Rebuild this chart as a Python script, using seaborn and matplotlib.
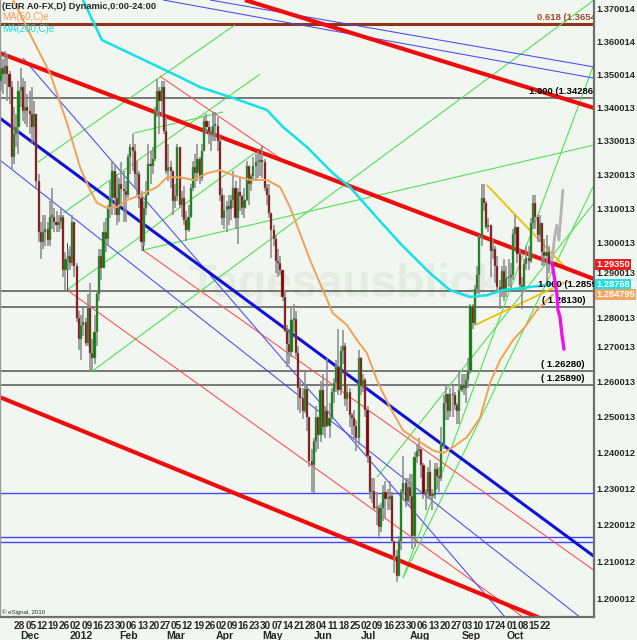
import numpy as np
import pandas as pd
import matplotlib
matplotlib.use('Agg')
import matplotlib.pyplot as plt
import matplotlib.transforms as mtransforms
from matplotlib.ticker import NullLocator
import seaborn as sns

# EUR A0-FX daily bars, 2011-11-17 .. 2012-10-26 (bar number 3 = first date)
start_date = '2011-11-17'
end_date = '2012-10-26'
first_bar = 3
first_open = 1.3440

closes = [
    1.3480, 1.3520,
    1.3500, 1.3525, 1.3500, 1.3460, 1.3250,
    1.3320, 1.3340, 1.3450, 1.3460, 1.3390,
    1.3400, 1.3390, 1.3380, 1.3340, 1.3380,
    1.3180, 1.3030, 1.3000, 1.3030, 1.3040,
    1.3005, 1.3075, 1.3075, 1.3060, 1.3050,
    1.3060, 1.3075, 1.2920, 1.2950, 1.2960,
    1.2940, 1.3060, 1.2930, 1.2780, 1.2720,
    1.2760, 1.2770, 1.2710, 1.2810, 1.2680,
    1.2665, 1.2740, 1.2850, 1.2960, 1.2925,
    1.3030, 1.3010, 1.3100, 1.3130, 1.3210,
    1.3130, 1.3080, 1.3170, 1.3155, 1.3150,
    1.3140, 1.3250, 1.3280, 1.3270, 1.3200,
    1.3200, 1.3130, 1.3000, 1.3100, 1.3140,
    1.3230, 1.3225, 1.3245, 1.3390, 1.3450,
    1.3420, 1.3460, 1.3330, 1.3210, 1.3220,
    1.3210, 1.3120, 1.3135, 1.3280, 1.3110,
    1.3130, 1.3065, 1.3035, 1.3075, 1.3160,
    1.3220, 1.3205, 1.3245, 1.3190, 1.3270,
    1.3360, 1.3340, 1.3325, 1.3320, 1.3345,
    1.3345, 1.3300, 1.3140, 1.3070, 1.3095,
    1.3105, 1.3098, 1.3123, 1.3158, 1.3070,
    1.3147, 1.3136, 1.3100, 1.3125, 1.3225,
    1.3170, 1.3195, 1.3225, 1.3235, 1.3235,
    1.3243, 1.3235, 1.3160, 1.3140, 1.3085,
    1.3037, 1.3008, 1.2946, 1.2940, 1.2920,
    1.2840, 1.2742, 1.2707, 1.2684, 1.2775,
    1.2778, 1.2680, 1.2580, 1.2554, 1.2517,
    1.2578, 1.2499, 1.2376, 1.2365, 1.2433,
    1.2500, 1.2450, 1.2575, 1.2470, 1.2515,
    1.2475, 1.2497, 1.2570, 1.2595, 1.2640,
    1.2575, 1.2685, 1.2700, 1.2550, 1.2570,
    1.2505, 1.2497, 1.2475, 1.2440, 1.2665,
    1.2586, 1.2605, 1.2518, 1.2390, 1.2290,
    1.2292, 1.2245, 1.2245, 1.2195, 1.2245,
    1.2290, 1.2270, 1.2270, 1.2280, 1.2155,
    1.2115, 1.2060, 1.2155, 1.2290, 1.2315,
    1.2265, 1.2305, 1.2280, 1.2170, 1.2387,
    1.2405, 1.2410, 1.2365, 1.2285, 1.2290,
    1.2345, 1.2280, 1.2283, 1.2355, 1.2335,
    1.2330, 1.2425, 1.2540, 1.2565, 1.2515,
    1.2565, 1.2560, 1.2533, 1.2515, 1.2576,
    1.2590, 1.2580, 1.2605, 1.2630, 1.2815,
    1.2765, 1.2865, 1.2905, 1.3015, 1.3130,
    1.3115, 1.3045, 1.3050, 1.2975, 1.2980,
    1.2930, 1.2870, 1.2860, 1.2915, 1.2860,
    1.2895, 1.2900, 1.2905, 1.3025, 1.3045,
    1.2965, 1.2875, 1.2870, 1.2935, 1.2955,
    1.2945, 1.3055, 1.3115, 1.3075, 1.3020,
    1.3055, 1.2970, 1.2960, 1.2970, 1.2935,
]
highs = [
    1.3540, 1.3560,
    1.3545, 1.3570, 1.3560, 1.3510, 1.3480,
    1.3400, 1.3380, 1.3480, 1.3520, 1.3490,
    1.3480, 1.3440, 1.3450, 1.3460, 1.3420,
    1.3380, 1.3200, 1.3060, 1.3080, 1.3080,
    1.3060, 1.3120, 1.3160, 1.3100, 1.3090,
    1.3080, 1.3100, 1.3080, 1.2970, 1.2980,
    1.2990, 1.3080, 1.3060, 1.2940, 1.2800,
    1.2790, 1.2810, 1.2780, 1.2850, 1.2880,
    1.2720, 1.2790, 1.2860, 1.2980, 1.2980,
    1.3060, 1.3070, 1.3110, 1.3180, 1.3235,
    1.3230, 1.3200, 1.3190, 1.3235, 1.3210,
    1.3180, 1.3260, 1.3290, 1.3320, 1.3290,
    1.3240, 1.3210, 1.3150, 1.3120, 1.3180,
    1.3290, 1.3270, 1.3280, 1.3400, 1.3486,
    1.3460, 1.3480, 1.3480, 1.3370, 1.3290,
    1.3240, 1.3200, 1.3170, 1.3290, 1.3280,
    1.3150, 1.3165, 1.3090, 1.3110, 1.3170,
    1.3240, 1.3260, 1.3290, 1.3250, 1.3290,
    1.3370, 1.3380, 1.3360, 1.3340, 1.3385,
    1.3385, 1.3370, 1.3310, 1.3160, 1.3140,
    1.3120, 1.3140, 1.3140, 1.3210, 1.3180,
    1.3160, 1.3190, 1.3140, 1.3160, 1.3240,
    1.3220, 1.3200, 1.3250, 1.3260, 1.3270,
    1.3260, 1.3283, 1.3245, 1.3170, 1.3170,
    1.3060, 1.3050, 1.3020, 1.2980, 1.2960,
    1.2920, 1.2860, 1.2760, 1.2750, 1.2816,
    1.2820, 1.2800, 1.2700, 1.2600, 1.2580,
    1.2625, 1.2590, 1.2500, 1.2410, 1.2440,
    1.2530, 1.2500, 1.2600, 1.2620, 1.2530,
    1.2670, 1.2540, 1.2580, 1.2610, 1.2660,
    1.2748, 1.2700, 1.2745, 1.2710, 1.2590,
    1.2580, 1.2510, 1.2520, 1.2490, 1.2690,
    1.2670, 1.2620, 1.2610, 1.2530, 1.2390,
    1.2330, 1.2330, 1.2290, 1.2255, 1.2260,
    1.2310, 1.2320, 1.2300, 1.2320, 1.2290,
    1.2150, 1.2130, 1.2170, 1.2300, 1.2390,
    1.2330, 1.2330, 1.2340, 1.2340, 1.2400,
    1.2420, 1.2440, 1.2410, 1.2370, 1.2300,
    1.2360, 1.2380, 1.2300, 1.2370, 1.2370,
    1.2360, 1.2470, 1.2560, 1.2590, 1.2565,
    1.2580, 1.2590, 1.2570, 1.2540, 1.2630,
    1.2620, 1.2620, 1.2620, 1.2665, 1.2820,
    1.2820, 1.2875, 1.2930, 1.3020, 1.3170,
    1.3172, 1.3120, 1.3070, 1.3050, 1.3010,
    1.2990, 1.2960, 1.2890, 1.2930, 1.2950,
    1.2930, 1.2950, 1.2940, 1.3040, 1.3080,
    1.3040, 1.2980, 1.2900, 1.2950, 1.2990,
    1.2990, 1.3070, 1.3140, 1.3140, 1.3080,
    1.3080, 1.3050, 1.3010, 1.3020, 1.2990,
]
lows = [
    1.3430, 1.3450,
    1.3440, 1.3470, 1.3420, 1.3410, 1.3213,
    1.3230, 1.3280, 1.3260, 1.3400, 1.3360,
    1.3350, 1.3340, 1.3320, 1.3290, 1.3300,
    1.3160, 1.3000, 1.2950, 1.2980, 1.2990,
    1.2990, 1.2990, 1.3040, 1.3030, 1.3030,
    1.3030, 1.3040, 1.2900, 1.2860, 1.2920,
    1.2920, 1.2930, 1.2900, 1.2770, 1.2690,
    1.2660, 1.2730, 1.2700, 1.2700, 1.2625,
    1.2625, 1.2650, 1.2700, 1.2830, 1.2890,
    1.2930, 1.2970, 1.2990, 1.3070, 1.3080,
    1.3080, 1.3050, 1.3060, 1.3110, 1.3060,
    1.3060, 1.3130, 1.3200, 1.3210, 1.3160,
    1.3140, 1.3100, 1.2975, 1.2990, 1.3080,
    1.3170, 1.3170, 1.3200, 1.3240, 1.3370,
    1.3320, 1.3370, 1.3320, 1.3200, 1.3180,
    1.3160, 1.3080, 1.3100, 1.3120, 1.3100,
    1.3075, 1.3050, 1.3003, 1.3030, 1.3070,
    1.3150, 1.3160, 1.3180, 1.3170, 1.3180,
    1.3270, 1.3320, 1.3290, 1.3270, 1.3300,
    1.3300, 1.3270, 1.3120, 1.3050, 1.3040,
    1.3030, 1.3050, 1.3065, 1.3100, 1.3040,
    1.2995, 1.3090, 1.3080, 1.3070, 1.3120,
    1.3110, 1.3150, 1.3180, 1.3180, 1.3190,
    1.3195, 1.3190, 1.3150, 1.3110, 1.3070,
    1.2955, 1.2990, 1.2910, 1.2900, 1.2905,
    1.2830, 1.2740, 1.2640, 1.2650, 1.2670,
    1.2740, 1.2670, 1.2520, 1.2510, 1.2495,
    1.2510, 1.2460, 1.2360, 1.2290, 1.2288,
    1.2400, 1.2410, 1.2430, 1.2450, 1.2440,
    1.2470, 1.2440, 1.2490, 1.2540, 1.2570,
    1.2560, 1.2560, 1.2650, 1.2530, 1.2515,
    1.2470, 1.2450, 1.2440, 1.2405, 1.2420,
    1.2560, 1.2570, 1.2500, 1.2370, 1.2270,
    1.2260, 1.2240, 1.2200, 1.2160, 1.2180,
    1.2210, 1.2220, 1.2240, 1.2240, 1.2150,
    1.2070, 1.2043, 1.2060, 1.2130, 1.2270,
    1.2250, 1.2260, 1.2250, 1.2135, 1.2140,
    1.2370, 1.2390, 1.2330, 1.2270, 1.2240,
    1.2270, 1.2270, 1.2240, 1.2270, 1.2300,
    1.2290, 1.2320, 1.2410, 1.2490, 1.2490,
    1.2500, 1.2500, 1.2520, 1.2480, 1.2480,
    1.2570, 1.2560, 1.2540, 1.2580, 1.2620,
    1.2750, 1.2760, 1.2850, 1.2850, 1.2990,
    1.3090, 1.3040, 1.3030, 1.2900, 1.2950,
    1.2880, 1.2860, 1.2805, 1.2840, 1.2830,
    1.2840, 1.2870, 1.2860, 1.2890, 1.2990,
    1.2940, 1.2860, 1.2805, 1.2860, 1.2920,
    1.2920, 1.2940, 1.3040, 1.3040, 1.3000,
    1.3000, 1.2930, 1.2930, 1.2880, 1.2910,
]

# moving averages (bar number, price)
ma50_bars = [9.6, 18.5, 26.1, 33.7, 39.5, 44.0, 47.1, 51.6, 56.0, 60.5, 66.3, 73.9, 78.4, 84.2,
             90.0, 96.2, 102.0, 107.9, 115.5, 123.0, 128.9, 133.3, 137.8, 142.3, 146.7, 152.5,
             158.8, 163.3, 167.7, 172.2, 178.0, 183.8, 191.4, 197.2, 201.7, 206.2, 212.4, 218.2,
             222.7, 227.2, 233.0, 238.3, 243.7, 250.8]
ma50_vals = [1.3727, 1.3604, 1.3503, 1.3352, 1.3221, 1.3153, 1.3115, 1.3100, 1.3103, 1.3123,
             1.3138, 1.3162, 1.3191, 1.3191, 1.3183, 1.3203, 1.3212, 1.3197, 1.3183, 1.3183,
             1.3162, 1.3103, 1.3026, 1.2948, 1.2881, 1.2794, 1.2760, 1.2717, 1.2680, 1.2603,
             1.2527, 1.2462, 1.2429, 1.2406, 1.2398, 1.2415, 1.2443, 1.2496, 1.2595, 1.2660,
             1.2717, 1.2754, 1.2803, 1.2848]
ma200_bars = [40.8, 49.3, 66.3, 84.2, 93.1, 107.9, 123.0, 130.2, 140.9, 152.5, 160.1, 170.4,
              182.5, 195.9, 204.8, 213.8, 221.4, 228.5, 236.1, 250.8]
ma200_vals = [1.3727, 1.3604, 1.3549, 1.3491, 1.3461, 1.3428, 1.3392, 1.3341, 1.3281, 1.3203,
              1.3162, 1.3085, 1.2997, 1.2910, 1.2861, 1.2841, 1.2846, 1.2861, 1.2866, 1.2878]

# projections after the last bar
proj_pink_bars = [250.4, 251.7, 252.6, 253.1, 254.0, 254.9, 255.8]
proj_pink_vals = [1.2939, 1.2890, 1.2852, 1.2803, 1.2783, 1.2731, 1.2691]
proj_gray_bars = [250.4, 251.7, 252.6, 253.5, 254.4, 255.3]
proj_gray_vals = [1.2945, 1.3021, 1.3050, 1.3006, 1.3079, 1.3153]

# trendlines: (bar0, price0, bar1, price1)
red_thick = [(3.74, 1.3564, 269.2, 1.2893), (113.2, 1.3727, 269.2, 1.3398),
             (3.74, 1.2555, 269.2, 1.1888)]
blue_thick = [(3.74, 1.3367, 269.2, 1.2114)]
blue_thin = [(97.6, 1.3727, 269.2, 1.3522), (76.6, 1.3727, 269.2, 1.3488),
             (3.74, 1.3242, 269.2, 1.1920), (14.0, 1.3549, 229.4, 1.1950)]
red_thin = [(75.2, 1.3494, 130.2, 1.3242), (33.7, 1.2861, 237.4, 1.1950),
            (67.6, 1.2977, 269.2, 1.2076)]
green_thin = [(44.4, 1.2626, 269.2, 1.3727), (33.7, 1.2861, 121.3, 1.3281),
              (67.6, 1.2977, 269.2, 1.3287), (63.2, 1.3322, 103.4, 1.3386),
              (20.7, 1.3236, 108.7, 1.3650), (31.9, 1.3085, 119.9, 1.3500),
              (183.8, 1.2055, 269.2, 1.3531), (183.8, 1.2055, 269.2, 1.3168),
              (172.2, 1.2331, 269.2, 1.3115)]
gold_thin = [(221.3, 1.3168, 257.5, 1.2919), (216.0, 1.2760, 257.5, 1.2887)]
handles = [(33.7, 1.2861, 1.2997), (67.6, 1.2977, 1.3035)]

# horizontal levels
level_vals = [1.3654, 1.34286, 1.2859, 1.2813, 1.2628, 1.2589]
level_text = ['0.618 (1.3654', '1.000 (1.34286', '1.000 (1.2859', '( 1.28130)', '( 1.26280)', '( 1.25890)']
level_text_bar = [243.7, 240.1, 244.1, 245.9, 245.5, 245.5]
blue_levels = [1.2288, 1.2166, 1.2153]

ytick_vals = [1.37, 1.36, 1.35, 1.34, 1.33, 1.32, 1.31, 1.30, 1.29, 1.28, 1.27, 1.26, 1.25,
              1.24, 1.23, 1.22, 1.21, 1.20]
ytick_text = ['1.370014', '1.360014', '1.350014', '1.340013', '1.330013', '1.320013', '1.310013',
              '1.300013', '1.290013', '1.280013', '1.270013', '1.260013', '1.250013', '1.240012',
              '1.230012', '1.220012', '1.210012', '1.200012']
# tick labels that eSignal nudges aside to make room for the price boxes (points)
ytick_nudge = {'1.290013': 2.0, '1.280013': -5.0}
month_text = ['Dec', '2012', 'Feb', 'Mar', 'Apr', 'May', 'Jun', 'Jul', 'Aug', 'Sep', 'Oct']
last_boxes = [(1.2935, '1.29350', '#ee1c1c'), (1.28768, '1.28768', '#1ee0e0'),
              (1.284795, '1.284795', '#f2a862')]

# ---------------------------------------------------------------------------
sns.set_style('white')
plt.rcParams['font.family'] = ['Liberation Sans', 'DejaVu Sans']
bg = '#f1f7f0'

dates = pd.bdate_range(start_date, end_date)
df = pd.DataFrame({'date': dates, 'bar': np.arange(len(dates)) + first_bar,
                   'high': highs, 'low': lows, 'close': closes})
df['open'] = [first_open] + closes[:-1]
up = df['close'] >= df['open']

fig = plt.figure(figsize=(6.37, 6.40), dpi=100)
fig.patch.set_facecolor(bg)
ax = fig.add_axes([0, 23 / 640, 594 / 637, 617 / 640])
ax.set_facecolor(bg)
ax.set_yscale('log')
ax.set_xlim(3.74, 269.2)
ax.set_ylim(1.1950, 1.3727)

# watermark
ax.text(157.9, 1.2875, 'Tagesausblick', fontsize=33, fontweight='bold', color='#e4ece3',
        ha='center', va='center', zorder=0)

# horizontal levels
for i, (v, t, b) in enumerate(zip(level_vals, level_text, level_text_bar)):
    col = '#8e3518' if i == 0 else '#555555'
    ax.axhline(v, color=col, lw=2.2 if i == 0 else 1.1, zorder=1)
    ax.annotate(t, (b, v), xytext=(0, 1.5), textcoords='offset points', va='bottom', ha='left',
                fontsize=6.8, fontweight='bold', color='#9a4a2a' if i == 0 else 'black',
                annotation_clip=False, clip_on=True, zorder=6)
for v in blue_levels:
    ax.axhline(v, color='#4646f0', lw=1.0, zorder=1)


def draw(lines, color, lw):
    for b0, p0, b1, p1 in lines:
        ax.plot([b0, b1], [p0, p1], color=color, lw=lw, zorder=2, solid_capstyle='butt')


draw(green_thin, '#52e052', 0.8)
draw(red_thin, '#ff4a4a', 0.75)
draw(blue_thin, '#4848f8', 0.75)
draw(gold_thin, '#f0c000', 1.3)
for b, p0, p1 in handles:
    ax.plot([b, b], [p0, p1], color='#404040', lw=0.7, zorder=2)

# candles
ax.vlines(df['bar'], df['low'], df['high'], color='#888888', lw=1.1, zorder=3)
body_lo = np.minimum(df['open'], df['close'])
body_h = np.maximum((df['close'] - df['open']).abs(), 0.0004)
ax.bar(df['bar'], body_h, bottom=body_lo, width=0.95,
       color=np.where(up, '#008400', '#880000'), edgecolor='#8a8a8a', linewidth=0.35, zorder=4)

# moving averages
sns.lineplot(x=ma50_bars, y=ma50_vals, ax=ax, color='#f2a055', lw=1.4, zorder=5)
sns.lineplot(x=ma200_bars, y=ma200_vals, ax=ax, color='#14e0e6', lw=1.8, zorder=5)

draw(red_thick, '#ee0c0c', 3.0)
draw(blue_thick, '#1010d8', 2.2)

ax.plot(proj_gray_bars, proj_gray_vals, color='#b4b4b4', lw=2.0, zorder=6)
ax.plot(proj_pink_bars, proj_pink_vals, color='#ee10ee', lw=2.4, zorder=6)

# axes styling
ax.spines['top'].set_visible(False)
ax.spines['left'].set_color('#9a9a9a')
ax.spines['left'].set_linewidth(1.0)
for s in ['right', 'bottom']:
    ax.spines[s].set_color('#6e6e6e')
    ax.spines[s].set_linewidth(1.6)

ax.yaxis.tick_right()
ax.set_yticks(ytick_vals)
ax.set_yticklabels(['' if t in ytick_nudge else t for t in ytick_text])
ax.yaxis.set_minor_locator(NullLocator())
ax.tick_params(axis='y', length=0, pad=1.5, labelsize=6.7)
for lab in ax.get_yticklabels():
    lab.set_fontweight('bold')

ytrans = mtransforms.blended_transform_factory(ax.transAxes, ax.transData)
for v, t in zip(ytick_vals, ytick_text):
    if t in ytick_nudge:
        ax.annotate(t, (1.0, v), xycoords=ytrans, xytext=(1.5, ytick_nudge[t]),
                    textcoords='offset points', ha='left', va='center', fontsize=6.7,
                    fontweight='bold', annotation_clip=False)

mondays = df[(df['date'].dt.dayofweek == 0) & (df['bar'] >= 10)]
ax.set_xticks(mondays['bar'])
ax.set_xticklabels(mondays['date'].dt.strftime('%d'), ha='left', fontsize=7.2, fontweight='bold')
ax.xaxis.set_minor_locator(NullLocator())
ax.tick_params(axis='x', length=2.5, width=0.8, pad=0.3, color='#555555')

trans = mtransforms.blended_transform_factory(ax.transData, ax.transAxes)
month_first = df.groupby(df['date'].dt.to_period('M'))['bar'].min().iloc[1:]
for b, t in zip(month_first, month_text):
    ax.text(b, -0.0235, t, transform=trans, ha='left', va='top', fontsize=7.6, fontweight='bold')

for v, t, c in last_boxes:
    ax.text(1.004, v, t, transform=ytrans, ha='left', va='center', fontsize=6.7,
            fontweight='bold', color='white', zorder=10, clip_on=False,
            bbox=dict(boxstyle='square,pad=0.1', fc=c, ec='none'))

# header texts
fig.text(2 / 637, 1 - 2 / 640, '(EUR A0-FX,D) Dynamic,0:00-24:00', fontsize=6.7,
         fontweight='bold', va='top', ha='left')
fig.text(2 / 637, 1 - 12 / 640, 'MA(50,C)e', fontsize=7, color='#f2a055', va='top', ha='left')
fig.text(2 / 637, 1 - 24 / 640, 'MA(200,C)e', fontsize=7, color='#14dede', va='top', ha='left')
fig.text(2 / 637, 1 - 609 / 640, '\u00a9 eSignal, 2010', fontsize=4.3, va='top', ha='left')

fig.savefig('out.png', dpi=100, facecolor=bg)
